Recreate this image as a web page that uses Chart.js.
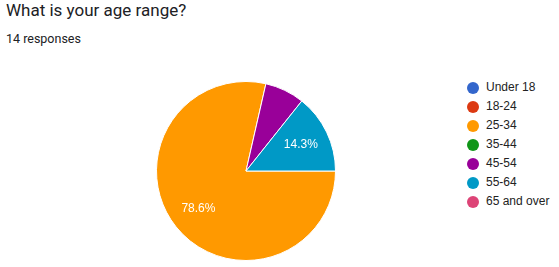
<!DOCTYPE html>
<html>
<head>
<meta charset="utf-8">
<script src="https://cdn.jsdelivr.net/npm/chart.js@4"></script>
<style>
  body { margin: 0; background: #fff; font-family: Roboto, Arial, sans-serif; width: 559px; height: 267px; position: relative; overflow: hidden; }
  #title { position: absolute; left: 6px; top: 0px; font-size: 17px; color: #202124; }
  #sub { position: absolute; left: 6px; top: 31px; font-size: 12.5px; color: #202124; }
  #wrap { position: absolute; left: 156px; top: 81px; width: 180px; height: 180px; }
  #legend { position: absolute; left: 467px; top: 78px; font-family: Arial, "Liberation Sans", sans-serif; font-size: 12px; color: #222; }
  .item { height: 19px; line-height: 19px; display: flex; align-items: center; }
  .dot { width: 12px; height: 12px; border-radius: 50%; margin-right: 7px; }
</style>
</head>
<body>
<div id="title">What is your age range?</div>
<div id="sub">14 responses</div>
<div id="wrap"><canvas id="pie"></canvas></div>
<div id="legend"></div>
<script>
const categories = ["Under 18", "18-24", "25-34", "35-44", "45-54", "55-64", "65 and over"];
const counts = [0, 0, 11, 0, 1, 2, 0];
const colors = ["#3366cc", "#dc3912", "#ff9900", "#109618", "#990099", "#0099c6", "#dd4477"];

const total = counts.reduce((a, b) => a + b, 0);

const legend = document.getElementById("legend");
categories.forEach((c, i) => {
  const row = document.createElement("div");
  row.className = "item";
  row.innerHTML = '<span class="dot" style="background:' + colors[i] + '"></span>' + c;
  legend.appendChild(row);
});

// percentage text inside the bigger slices
const sliceLabels = {
  id: "sliceLabels",
  afterDatasetsDraw(chart) {
    const ctx = chart.ctx;
    const meta = chart.getDatasetMeta(0);
    ctx.save();
    ctx.fillStyle = "#fff";
    ctx.font = "12px Arial, 'Liberation Sans', sans-serif";
    ctx.textAlign = "center";
    ctx.textBaseline = "middle";
    meta.data.forEach((arc, i) => {
      const pct = counts[i] / total * 100;
      if (pct < 10) return;
      const mid = (arc.startAngle + arc.endAngle) / 2;
      const r = arc.outerRadius * 0.68;
      ctx.fillText(pct.toFixed(1) + "%", arc.x + Math.cos(mid) * r, arc.y + Math.sin(mid) * r);
    });
    ctx.restore();
  }
};

new Chart(document.getElementById("pie"), {
  type: "pie",
  data: {
    labels: categories,
    datasets: [{
      data: counts,
      backgroundColor: colors,
      borderColor: "#fff",
      borderWidth: 1
    }]
  },
  options: {
    responsive: true,
    maintainAspectRatio: false,
    animation: false,
    rotation: 90,
    plugins: { legend: { display: false }, tooltip: { enabled: false } }
  },
  plugins: [sliceLabels]
});
</script>
</body>
</html>
